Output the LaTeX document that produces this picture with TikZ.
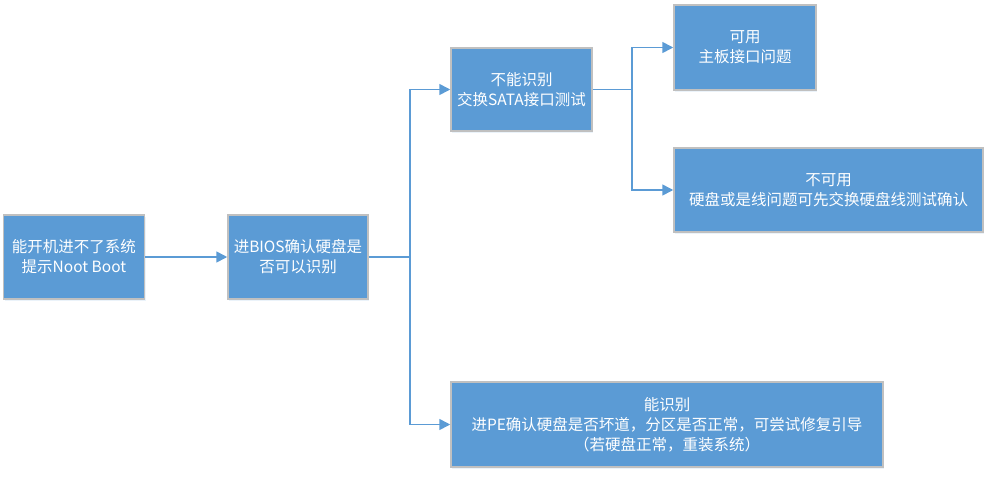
\documentclass[tikz,border=0pt]{standalone}
\usepackage{fontspec}
\newfontfamily\cjk{Noto Sans CJK SC}
\usetikzlibrary{arrows.meta,shadows}
\definecolor{boxblue}{HTML}{5B9BD5}
\definecolor{boxedge}{HTML}{C0C0C0}
\begin{document}
\begin{tikzpicture}[x=1pt,y=-1pt,
  box/.style={draw=boxedge, line width=1.5pt, fill=boxblue, text=white,
    font=\cjk\fontsize{15.5}{20}\selectfont, align=center, inner sep=0pt,
    drop shadow={opacity=0.12, shadow xshift=1pt, shadow yshift=-2pt, fill=boxblue}},
  conn/.style={draw=boxblue, line width=1.6pt},
  arr/.style={conn, -{Triangle[length=11pt,width=11pt]}}]
\useasboundingbox (0,0) rectangle (993,482);
\node[box, minimum width=141pt, minimum height=84pt] (b1) at (74,257) {能开机进不了系统\\提示Noot Boot};
\node[box, minimum width=140pt, minimum height=84pt] (b2) at (298,257) {进BIOS确认硬盘是\\否可以识别};
\node[box, minimum width=141pt, minimum height=83pt] (b3) at (521.5,89.5) {不能识别\\交换SATA接口测试};
\node[box, minimum width=142pt, minimum height=85pt] (b4) at (745,47.5) {可用\\主板接口问题};
\node[box, minimum width=309pt, minimum height=84pt] (b5) at (828.5,190) {不可用\\硬盘或是线问题可先交换硬盘线测试确认};
\node[box, minimum width=432pt, minimum height=85pt] (b6) at (667,424.5) {能识别\\进PE确认硬盘是否坏道，分区是否正常，可尝试修复引导\\（若硬盘正常，重装系统）};
\coordinate (j1) at (410,257);
\coordinate (j2) at (632,89.5);
\draw[arr] (b1.east) -- (b2.west);
\draw[conn] (b2.east) -- (j1);
\draw[arr] (j1) |- (b3.west);
\draw[arr] (j1) |- (b6.west);
\draw[conn] (b3.east) -- (j2);
\draw[arr] (j2) |- (b4.west);
\draw[arr] (j2) |- (b5.west);
\end{tikzpicture}
\end{document}
